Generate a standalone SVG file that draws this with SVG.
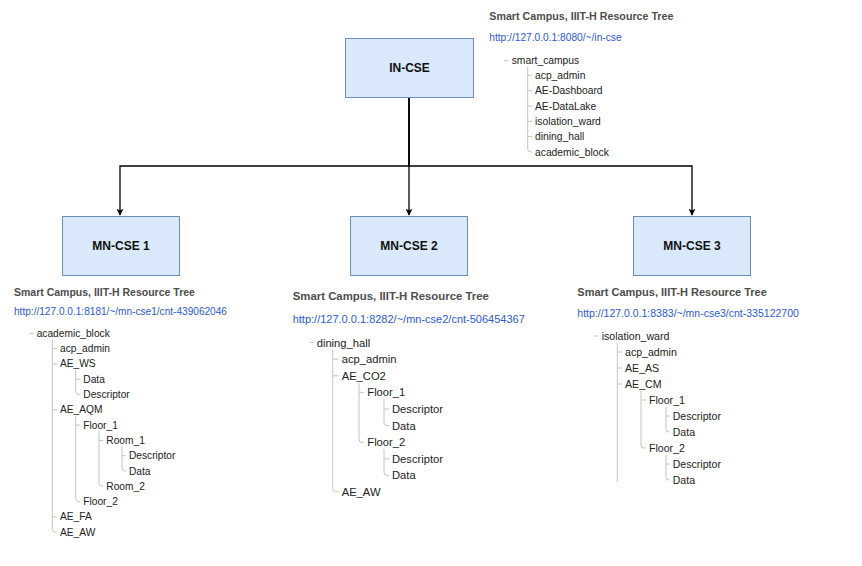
<svg xmlns="http://www.w3.org/2000/svg" width="862" height="566" viewBox="0 0 862 566">
  <defs>
    <marker id="arrow" viewBox="0 0 10 10" refX="9" refY="5" markerWidth="7" markerHeight="7" orient="auto" markerUnits="userSpaceOnUse">
      <path d="M0,0 L10,5 L0,10 L2.5,5 Z" fill="#000"/>
    </marker>
    <style>
      .box { fill: #dae8fc; stroke: #6c8ebf; stroke-width: 1; }
      .lbl { font-family: "Liberation Sans", Arial, sans-serif; font-weight: bold; font-size: 12px; fill: #111; text-anchor: middle; dominant-baseline: central; }
      .edge { fill: none; stroke: #000; stroke-width: 1.3; marker-end: url(#arrow); }
      .title { font-family: "Liberation Sans", Arial, sans-serif; font-weight: bold; fill: #4d4d4d; dominant-baseline: central; }
      .url { font-family: "Liberation Sans", Arial, sans-serif; fill: #2c5ad8; dominant-baseline: central; }
      .item { font-family: "Liberation Sans", Arial, sans-serif; fill: #222; dominant-baseline: central; }
      .guide { fill: none; stroke: #c4c4c4; stroke-width: 1; }
    </style>
  </defs>

  <rect width="862" height="566" fill="#fff"/>

  <!-- connectors -->
  <g id="connectors">
    <path class="edge" d="M409,97 V166 H120 V215"/>
    <path class="edge" d="M409,97 V215"/>
    <path class="edge" d="M409,97 V166 H692 V215"/>
  </g>

  <!-- nodes -->
  <g id="in-cse">
    <rect class="box" x="345.5" y="38.5" width="128" height="59"/>
    <text class="lbl" x="409.5" y="68">IN-CSE</text>
  </g>
  <g id="mn-cse-1">
    <rect class="box" x="62.5" y="216.5" width="117" height="59"/>
    <text class="lbl" x="121" y="246">MN-CSE 1</text>
  </g>
  <g id="mn-cse-2">
    <rect class="box" x="350.5" y="216.5" width="117" height="59"/>
    <text class="lbl" x="409" y="246">MN-CSE 2</text>
  </g>
  <g id="mn-cse-3">
    <rect class="box" x="633.5" y="216.5" width="117" height="59"/>
    <text class="lbl" x="692" y="246">MN-CSE 3</text>
  </g>

  <!-- IN-CSE resource tree -->
  <g id="tree-in-cse" font-size="10.3">
    <text class="title" x="489.3" y="16" font-size="10.7">Smart Campus, IIIT-H Resource Tree</text>
    <text class="url" x="489.3" y="37.7" font-size="10.2">http://127.0.0.1:8080/~/in-cse</text>
    <path class="guide" d="M504,60.7 H508.5 M527.7,67 V149 Q527.7,152 530.7,152 H532 M527.7,75.3 H532 M527.7,90.6 H532 M527.7,106 H532 M527.7,121.3 H532 M527.7,136.6 H532"/>
    <text class="item" x="511.7" y="60.7">smart_campus</text>
    <text class="item" x="535" y="75.3">acp_admin</text>
    <text class="item" x="535" y="90.6">AE-Dashboard</text>
    <text class="item" x="535" y="106">AE-DataLake</text>
    <text class="item" x="535" y="121.3">isolation_ward</text>
    <text class="item" x="535" y="136.6">dining_hall</text>
    <text class="item" x="535" y="152">academic_block</text>
  </g>

  <!-- MN-CSE 1 resource tree -->
  <g id="tree-mn-cse-1" font-size="10.2">
    <text class="title" x="14" y="291.7" font-size="10.5">Smart Campus, IIIT-H Resource Tree</text>
    <text class="url" x="14" y="311.7" font-size="10.1">http://127.0.0.1:8181/~/mn-cse1/cnt-439062046</text>
    <path class="guide" d="M29.5,333.3 H33.5
      M52.3,340 V529.2 Q52.3,532.2 55.3,532.2 H57 M52.3,348.6 H57 M52.3,363.9 H57 M52.3,409.8 H57 M52.3,516.9 H57
      M75.7,370 V391.5 Q75.7,394.5 78.7,394.5 H80.3 M75.7,379.2 H80.3
      M75.7,416 V498.6 Q75.7,501.6 78.7,501.6 H80.3 M75.7,425.1 H80.3
      M99,431 V483.3 Q99,486.3 102,486.3 H103.3 M99,440.4 H103.3
      M122,446 V468 Q122,471 125,471 H126 M122,455.7 H126"/>
    <text class="item" x="36.7" y="333.3">academic_block</text>
    <text class="item" x="60" y="348.6">acp_admin</text>
    <text class="item" x="60" y="363.9">AE_WS</text>
    <text class="item" x="83.3" y="379.2">Data</text>
    <text class="item" x="83.3" y="394.5">Descriptor</text>
    <text class="item" x="60" y="409.8">AE_AQM</text>
    <text class="item" x="83.3" y="425.1">Floor_1</text>
    <text class="item" x="106.3" y="440.4">Room_1</text>
    <text class="item" x="129" y="455.7">Descriptor</text>
    <text class="item" x="129" y="471">Data</text>
    <text class="item" x="106.3" y="486.3">Room_2</text>
    <text class="item" x="83.3" y="501.6">Floor_2</text>
    <text class="item" x="60" y="516.9">AE_FA</text>
    <text class="item" x="60" y="532.2">AE_AW</text>
  </g>

  <!-- MN-CSE 2 resource tree -->
  <g id="tree-mn-cse-2" font-size="11.2">
    <text class="title" x="292.7" y="295.7" font-size="11.4">Smart Campus, IIIT-H Resource Tree</text>
    <text class="url" x="292.7" y="319" font-size="11">http://127.0.0.1:8282/~/mn-cse2/cnt-506454367</text>
    <path class="guide" d="M310,342.7 H314
      M332.7,350 V488.7 Q332.7,491.7 335.7,491.7 H338.5 M332.7,359.2 H338.5 M332.7,375.8 H338.5
      M359,383 V439.3 Q359,442.3 362,442.3 H364 M359,392.4 H364
      M384,399 V422.6 Q384,425.6 387,425.6 H389 M384,409 H389
      M384,449 V472.3 Q384,475.3 387,475.3 H389 M384,458.8 H389"/>
    <text class="item" x="316.7" y="342.7">dining_hall</text>
    <text class="item" x="341.7" y="359.2">acp_admin</text>
    <text class="item" x="341.7" y="375.8">AE_CO2</text>
    <text class="item" x="367.3" y="392.4">Floor_1</text>
    <text class="item" x="392" y="409">Descriptor</text>
    <text class="item" x="392" y="425.6">Data</text>
    <text class="item" x="367.3" y="442.3">Floor_2</text>
    <text class="item" x="392" y="458.8">Descriptor</text>
    <text class="item" x="392" y="475.3">Data</text>
    <text class="item" x="341.7" y="491.7">AE_AW</text>
  </g>

  <!-- MN-CSE 3 resource tree -->
  <g id="tree-mn-cse-3" font-size="10.6">
    <text class="title" x="577.3" y="292.3" font-size="11">Smart Campus, IIIT-H Resource Tree</text>
    <text class="url" x="577.3" y="313.3" font-size="10.5">http://127.0.0.1:8383/~/mn-cse3/cnt-335122700</text>
    <path class="guide" d="M594,336 H598.5
      M617.3,343 V482 M617.3,352 H622 M617.3,368 H622 M617.3,384 H622
      M641,391 V445 Q641,448 644,448 H646 M641,400 H646
      M666,407 V429 Q666,432 669,432 H670 M666,416 H670
      M666,455 V477 Q666,480 669,480 H670 M666,464 H670"/>
    <text class="item" x="601.7" y="336">isolation_ward</text>
    <text class="item" x="625" y="352">acp_admin</text>
    <text class="item" x="625" y="368">AE_AS</text>
    <text class="item" x="625" y="384">AE_CM</text>
    <text class="item" x="649" y="400">Floor_1</text>
    <text class="item" x="672.7" y="416">Descriptor</text>
    <text class="item" x="672.7" y="432">Data</text>
    <text class="item" x="649" y="448">Floor_2</text>
    <text class="item" x="672.7" y="464">Descriptor</text>
    <text class="item" x="672.7" y="480">Data</text>
  </g>
</svg>
